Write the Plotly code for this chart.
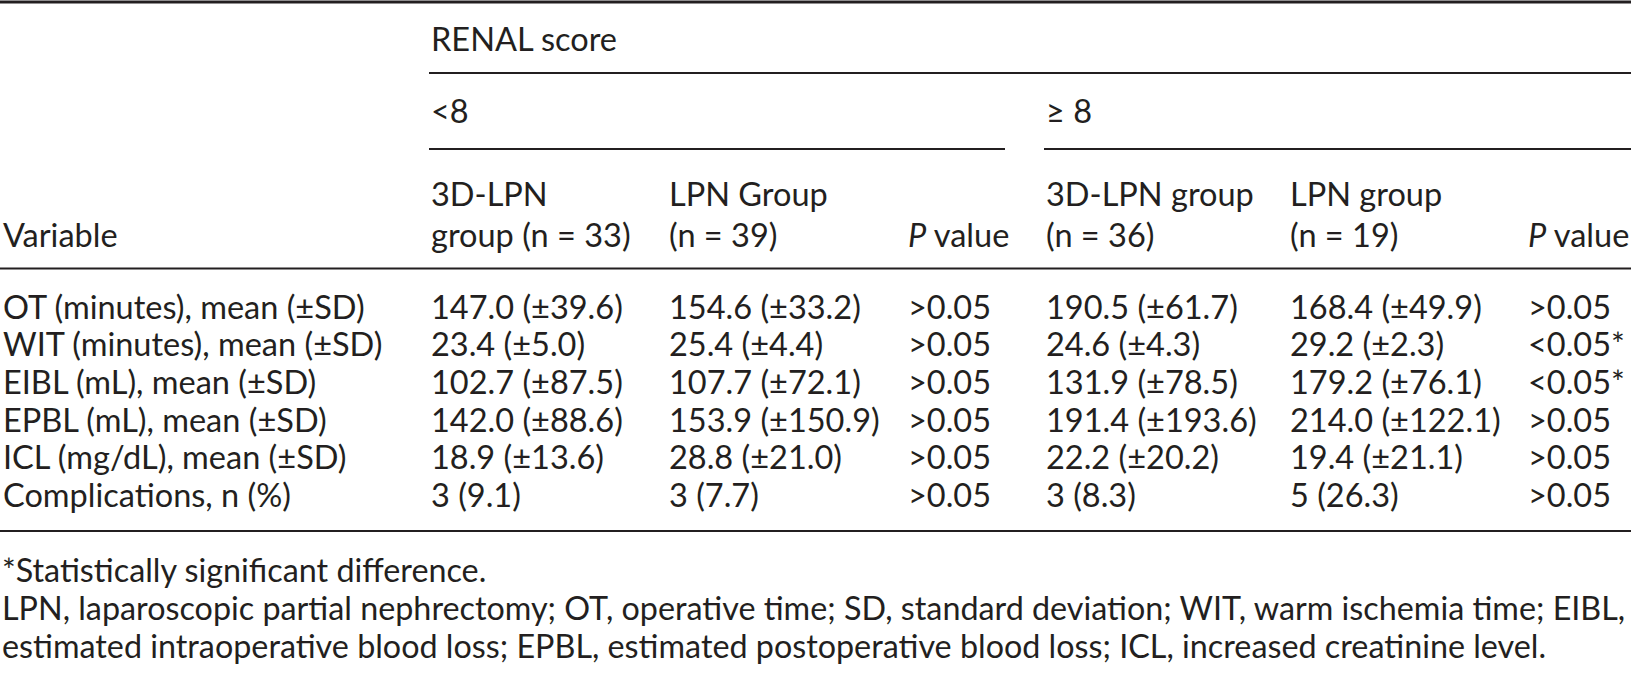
import plotly.graph_objects as go

W, H = 1631, 686
FONT = "Lato"
INK = "#231f20"
FS = 32.5
FS_NOTE = 32.3

# ---------------- data ----------------
variables = [
    "OT (minutes), mean (±SD)",
    "WIT (minutes), mean (±SD)",
    "EIBL (mL), mean (±SD)",
    "EPBL (mL), mean (±SD)",
    "ICL (mg/dL), mean (±SD)",
    "Complications, n (%)",
]
lt8_3dlpn = ["147.0 (±39.6)", "23.4 (±5.0)", "102.7 (±87.5)", "142.0 (±88.6)", "18.9 (±13.6)", "3 (9.1)"]
lt8_lpn = ["154.6 (±33.2)", "25.4 (±4.4)", "107.7 (±72.1)", "153.9 (±150.9)", "28.8 (±21.0)", "3 (7.7)"]
lt8_p = [">0.05", ">0.05", ">0.05", ">0.05", ">0.05", ">0.05"]
ge8_3dlpn = ["190.5 (±61.7)", "24.6 (±4.3)", "131.9 (±78.5)", "191.4 (±193.6)", "22.2 (±20.2)", "3 (8.3)"]
ge8_lpn = ["168.4 (±49.9)", "29.2 (±2.3)", "179.2 (±76.1)", "214.0 (±122.1)", "19.4 (±21.1)", "5 (26.3)"]
ge8_p = [">0.05", "<0.05*", "<0.05*", ">0.05", ">0.05", ">0.05"]

top_header = "RENAL score"
group_headers = ["<8", "≥ 8"]
col_headers = [
    "Variable",
    "3D-LPN<br>group (n = 33)",
    "LPN Group<br>(n = 39)",
    "<i>P</i> value",
    "3D-LPN group<br>(n = 36)",
    "LPN group<br>(n = 19)",
    "<i>P</i> value",
]
footnotes = [
    "*Statistically significant difference.",
    "LPN, laparoscopic partial nephrectomy; OT, operative time; SD, standard deviation; WIT, warm ischemia time; EIBL,",
    "estimated intraoperative blood loss; EPBL, estimated postoperative blood loss; ICL, increased creatinine level.",
]

# ---------------- layout ----------------
col_x = [1, 429, 667, 906, 1044, 1288, 1526]
y_renal = 38.5
y_group = 110
y_hdr1, y_hdr2 = 193, 234
row_y0, row_step = 306, 37.7
y_lines = dict(top=2, renal=73, group=149, head=268.5, bottom=531)
fn_y0, fn_step = 569, 38

columns = [variables, lt8_3dlpn, lt8_lpn, lt8_p, ge8_3dlpn, ge8_lpn, ge8_p]

fig = go.Figure()
ann = []

def txt(x, y, s, size=FS):
    ann.append(dict(x=x, y=y, xref="x", yref="y", text=s, showarrow=False,
                    xanchor="left", yanchor="middle", align="left",
                    font=dict(family=FONT, size=size, color=INK)))

# body cells
for ci, col in enumerate(columns):
    for ri, val in enumerate(col):
        txt(col_x[ci], row_y0 + ri * row_step, val)

# headers
txt(col_x[1], y_renal, top_header)
txt(col_x[1], y_group, group_headers[0])
txt(col_x[4], y_group, group_headers[1])
for ci, h in enumerate(col_headers):
    if "<br>" in h:
        a, b = h.split("<br>")
        txt(col_x[ci], y_hdr1, a)
        txt(col_x[ci], y_hdr2, b)
    else:
        txt(col_x[ci], y_hdr2, h)

# footnotes
for i, f in enumerate(footnotes):
    txt(0, fn_y0 + i * fn_step, f, FS_NOTE)

shapes = []
def hline(x0, x1, y, w=2.2):
    shapes.append(dict(type="line", xref="x", yref="y", x0=x0, x1=x1, y0=y, y1=y,
                       line=dict(color=INK, width=w)))

hline(0, W, y_lines["top"], 3)
hline(col_x[1], W, y_lines["renal"])
hline(col_x[1], 1005, y_lines["group"])
hline(col_x[4], W, y_lines["group"])
hline(0, W, y_lines["head"])
hline(0, W, y_lines["bottom"])

fig.update_layout(
    width=W, height=H,
    margin=dict(l=0, r=0, t=0, b=0),
    paper_bgcolor="white", plot_bgcolor="white",
    xaxis=dict(range=[0, W], visible=False, fixedrange=True),
    yaxis=dict(range=[H, 0], visible=False, fixedrange=True),
    annotations=ann, shapes=shapes, showlegend=False,
)
fig.write_html(
    "out.html",
    config={"displayModeBar": False},
    post_script="document.body.style.margin='0';document.body.style.overflow='hidden';",
)
